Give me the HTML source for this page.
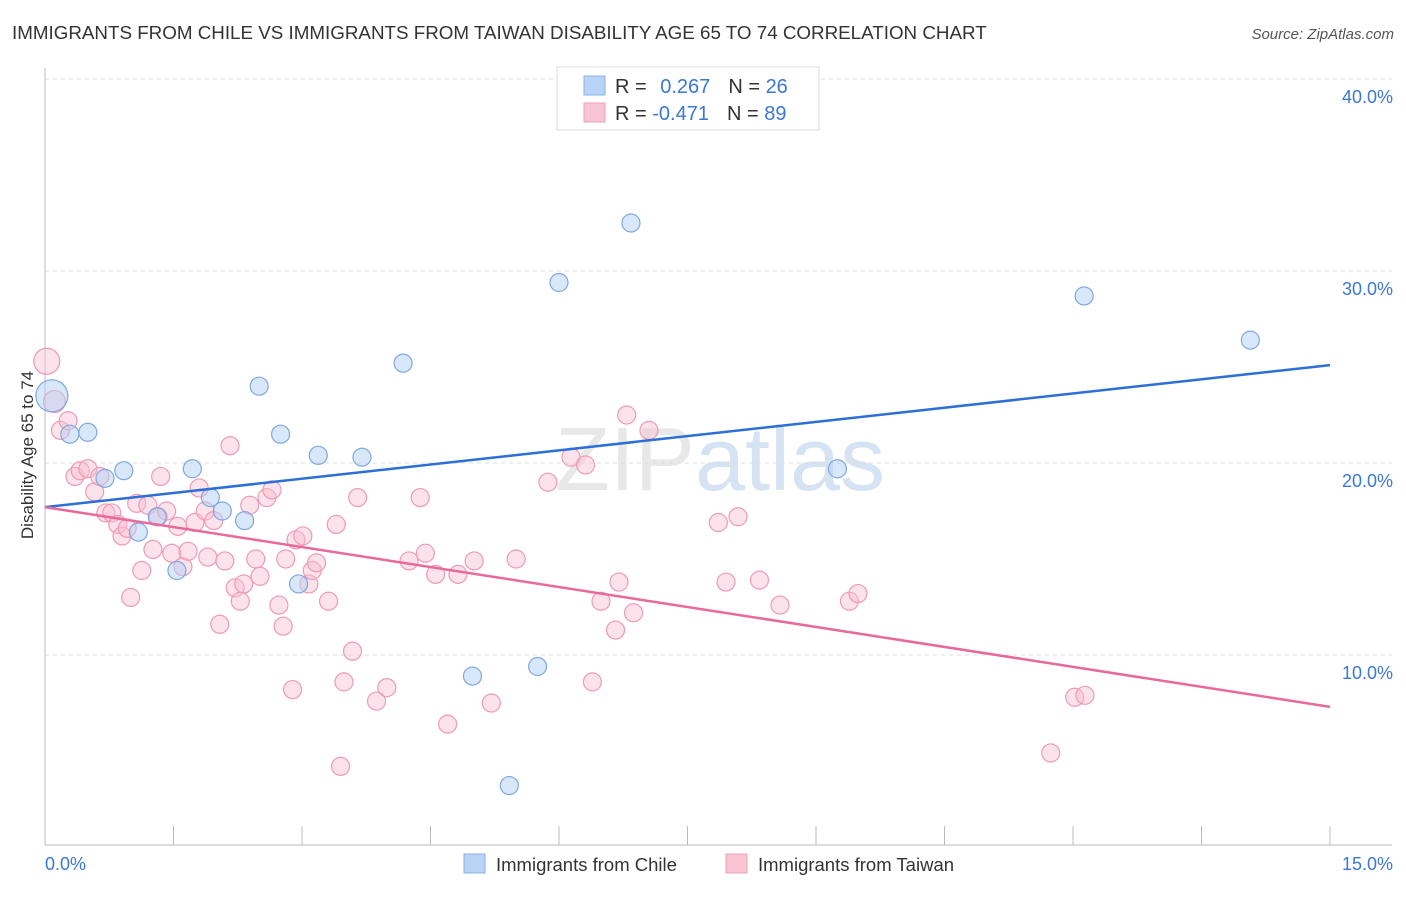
<!DOCTYPE html>
<html><head><meta charset="utf-8"><style>
body{margin:0;background:#fff;font-family:"Liberation Sans",sans-serif}
svg text{font-family:"Liberation Sans",sans-serif}
</style></head><body>
<svg id="chart" width="1406" height="892">
<text x="12" y="39" font-size="18.8" fill="#333">IMMIGRANTS FROM CHILE VS IMMIGRANTS FROM TAIWAN DISABILITY AGE 65 TO 74 CORRELATION CHART</text>
<text x="1394" y="39" font-size="15" fill="#555" font-style="italic" text-anchor="end">Source: ZipAtlas.com</text>
<text x="720" y="490" font-size="90" fill="#e8e8e8" text-anchor="middle" font-family="Liberation Serif">ZIP<tspan fill="#d6e3f3" font-family="Liberation Sans">atlas</tspan></text>
<g id="grid"></g><g id="axes"></g><g id="marks"></g>
<text transform="translate(33,455) rotate(-90)" font-size="17" fill="#333" text-anchor="middle">Disability Age 65 to 74</text>
<g>
<rect x="557" y="67" width="262" height="63" fill="#fff" stroke="#ddd"/>
<rect x="584" y="76" width="21" height="19" fill="#b8d3f5" stroke="#8ab0e0"/>
<rect x="584" y="103" width="21" height="19" fill="#f9c4d4" stroke="#eea0b8"/>
<text x="615" y="93" font-size="20" fill="#333">R = <tspan fill="#3a78d4" dx="8">0.267</tspan><tspan dx="18" fill="#333">N = </tspan><tspan fill="#3a78d4">26</tspan></text>
<text x="615" y="120" font-size="20" fill="#333">R = <tspan fill="#3a78d4">-0.471</tspan><tspan dx="18" fill="#333">N = </tspan><tspan fill="#3a78d4">89</tspan></text>
</g>
<g>
<rect x="464" y="854" width="21" height="19" fill="#b8d3f5" stroke="#8ab0e0"/>
<text x="496" y="871" font-size="18.5" fill="#333">Immigrants from Chile</text>
<rect x="726" y="854" width="21" height="19" fill="#f9c4d4" stroke="#eea0b8"/>
<text x="758" y="871" font-size="18.5" fill="#333">Immigrants from Taiwan</text>
</g>
</svg>
<script>
const xTicks=[0,1.5,3,4.5,6,7.5,9,10.5,12,13.5,15];
const yTicks=[10,20,30,40];
const yTickLabels=["10.0%","20.0%","30.0%","40.0%"];
const chileX=[0.08,0.29,0.5,0.7,0.92,1.09,1.31,1.54,1.72,1.93,2.07,2.33,2.5,2.75,2.96,3.19,3.7,4.18,4.99,5.75,5.42,6.0,6.84,9.25,12.13,14.07];
const chileY=[23.5,21.5,21.6,19.2,19.6,16.4,17.2,14.4,19.7,18.2,17.5,17.0,24.0,21.5,13.7,20.4,20.3,25.2,8.9,9.4,3.2,29.4,32.5,19.7,28.7,26.4];
const taiwanX=[0.02,0.11,0.18,0.27,0.35,0.41,0.5,0.58,0.64,0.71,0.78,0.85,0.9,0.96,1.0,1.07,1.13,1.2,1.26,1.32,1.35,1.42,1.48,1.55,1.61,1.67,1.75,1.8,1.87,1.9,1.97,2.04,2.1,2.16,2.22,2.28,2.32,2.39,2.46,2.51,2.59,2.65,2.73,2.78,2.81,2.89,2.93,3.01,3.08,3.12,3.17,3.31,3.4,3.49,3.45,3.59,3.65,3.87,3.99,4.25,4.38,4.44,4.56,4.7,4.82,5.01,5.21,5.5,5.87,6.14,6.31,6.39,6.49,6.66,6.7,6.79,6.87,7.05,7.86,7.95,8.09,8.34,8.58,9.39,9.49,11.74,12.02,12.14];
const taiwanY=[25.3,23.2,21.7,22.2,19.3,19.6,19.7,18.5,19.3,17.4,17.4,16.8,16.2,16.6,13.0,17.9,14.4,17.8,15.5,17.2,19.3,17.5,15.3,16.7,14.6,15.4,16.9,18.7,17.5,15.1,17.0,11.6,14.9,20.9,13.5,12.8,13.7,17.8,15.0,14.1,18.2,18.6,12.6,11.5,15.0,8.2,16.0,16.2,13.7,14.4,14.8,12.8,16.8,8.6,4.2,10.2,18.2,7.6,8.3,14.9,18.2,15.3,14.2,6.4,14.2,14.9,7.5,15.0,19.0,20.3,19.9,8.6,12.8,11.3,13.8,22.5,12.2,21.7,16.9,13.8,17.2,13.9,12.6,12.8,13.2,4.9,7.8,7.9];
const chileLine=[17.7,25.1];
const taiwanLine=[17.7,7.3];
const X=v=>45+v/15*1285, Y=v=>847-v*19.2;
const NS="http://www.w3.org/2000/svg";
function mk(t,a,p){const e=document.createElementNS(NS,t);for(const k in a)e.setAttribute(k,a[k]);p.appendChild(e);return e;}
const gridG=document.getElementById('grid'),axesG=document.getElementById('axes'),marksG=document.getElementById('marks');
yTicks.forEach((t,i)=>{
 const l=mk('line',{x1:45,x2:1392,y1:Y(t),y2:Y(t),stroke:'#ddd','stroke-dasharray':'4,4'},gridG);
 
 
 const tx=mk('text',{x:1393,y:Y(t)+24,'font-size':18,fill:'#3a78d4','text-anchor':'end'},axesG);
 tx.textContent=yTickLabels[i];
 
 
});
const topLine=mk('line',{x1:45,x2:1392,y1:79,y2:79,stroke:'#ddd','stroke-dasharray':'4,4'},gridG);


const xa=mk('line',{x1:45,x2:1392,y1:845,y2:845,stroke:'#bbb'},axesG);


const ya=mk('line',{x1:45,x2:45,y1:68,y2:845,stroke:'#bbb'},axesG);


xTicks.forEach(t=>{
 const l=mk('line',{x1:X(t),x2:X(t),y1:826,y2:845,stroke:'#bbb'},axesG);
 
 
});
const xl0=mk('text',{x:45,y:870,'font-size':18,fill:'#3a78d4'},axesG);xl0.textContent='0.0%';


const xl1=mk('text',{x:1393,y:870,'font-size':18,fill:'#3a78d4','text-anchor':'end'},axesG);xl1.textContent='15.0%';


taiwanX.forEach((v,i)=>{
 const r=i===0?13:(i===1?11:9);
 const c=mk('circle',{cx:X(v),cy:Y(taiwanY[i]),r:r,fill:'rgba(249,190,208,0.45)',stroke:'#ef9ab5','stroke-width':1.2},marksG);
 
 
});
chileX.forEach((v,i)=>{
 const r=i===0?16:9;
 const c=mk('circle',{cx:X(v),cy:Y(chileY[i]),r:r,fill:'rgba(180,208,245,0.5)',stroke:'#7fa8dd','stroke-width':1.2},marksG);
 
 
});
const bl=mk('line',{x1:X(0),y1:Y(chileLine[0]),x2:X(15),y2:Y(chileLine[1]),stroke:'#2c6fd6','stroke-width':2.5},marksG);


const pl=mk('line',{x1:X(0),y1:Y(taiwanLine[0]),x2:X(15),y2:Y(taiwanLine[1]),stroke:'#e8699a','stroke-width':2.5},marksG);


</script>
</body></html>
